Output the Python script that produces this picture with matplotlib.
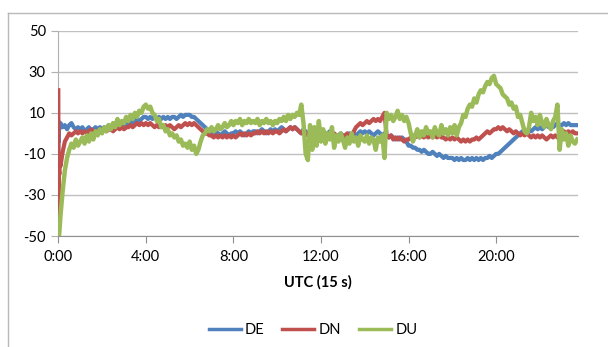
import numpy as np
import matplotlib
matplotlib.use("Agg")
import matplotlib.pyplot as plt
from matplotlib.lines import Line2D

plt.rcParams['font.family'] = ['Lato', 'DejaVu Sans']

# first minutes of the record (hours)
t_start = [0.0, 0.01, 0.02, 0.03, 0.05, 0.07]
de_start = [-8, 6, -4, 5, 2, 4]
dn_start = [21, -50, -25, -18, -20, -12]
du_start = [-50, -50, -50, -50, -48, -45]

# then one value every 0.1 h, one row per hour (row 0 starts at 0.1 h)
de_rows = [
    [5, 3, 4, 2, 4, 5, 3, 2, 3],
    [2, 3, 1, 2, 3, 1, 2, 3, 2, 3],
    [2, 3, 2, 4, 3, 4, 3, 4, 5, 4],
    [5, 4, 5, 6, 5, 6, 7, 6, 7, 8],
    [8, 7, 8, 7, 8, 7, 8, 7, 8, 7],
    [8, 7, 8, 8, 7, 8, 9, 8, 9, 9],
    [9, 8, 8, 7, 6, 5, 4, 3, 2, 1],
    [1, 0, 1, 0, -1, 0, 1, 0, -1, 0],
    [0, 1, 0, 1, 0, -1, 0, 1, 0, 1],
    [1, 0, 1, 2, 1, 0, 1, 2, 1, 2],
    [1, 2, 3, 2, 1, 2, 3, 2, 3, 2],
    [1, 0, 2, 1, 0, 1, 2, 1, 0, 1],
    [1, 0, -1, 0, 1, 0, -1, -2, -1, 0],
    [-1, -2, -1, 0, -1, 0, -1, 0, 1, 0],
    [1, 0, 1, 0, -1, 0, 1, 0, -1, 0],
    [-1, -2, -1, -2, -3, -2, -3, -2, -3, -4],
    [-6, -6, -7, -7, -8, -8, -9, -8, -9, -10],
    [-10, -9, -10, -11, -10, -11, -12, -11, -12, -12],
    [-12, -13, -12, -13, -12, -13, -13, -12, -13, -12],
    [-13, -12, -13, -12, -13, -12, -12, -11, -12, -11],
    [-10, -10, -9, -8, -7, -6, -5, -4, -3, -2],
    [-1, 0, 1, 0, 1, 2, 1, 2, 3, 2],
    [3, 2, 3, 4, 3, 4, 3, 4, 5, 4],
    [4, 5, 4, 5, 4, 4, 4, 4],
]
dn_rows = [
    [-16, -9, -4, -2, 0, -1, 0, 1, 0],
    [1, 0, 1, 0, 1, 2, 1, 0, 1, 2],
    [1, 2, 1, 2, 2, 1, 2, 3, 2, 3],
    [2, 3, 3, 4, 3, 4, 5, 4, 5, 4],
    [5, 4, 5, 4, 3, 4, 3, 4, 3, 4],
    [3, 4, 3, 2, 3, 4, 3, 4, 5, 4],
    [5, 4, 5, 4, 3, 2, 1, 0, 0, -1],
    [-1, -2, -1, -2, -1, -2, -1, -2, -1, -2],
    [-1, -2, -1, 0, -1, 0, -1, 0, -1, 0],
    [0, 1, 0, 1, 0, 1, 0, 1, 0, 1],
    [1, 0, 1, 2, 1, 2, 3, 2, 3, 2],
    [1, 0, 1, 0, -1, 0, 1, 0, -1, 0],
    [0, -1, 0, -1, -2, -1, 0, -1, -2, -3],
    [-2, -1, 0, -1, -2, 1, 3, 4, 5, 4],
    [5, 6, 5, 6, 7, 6, 7, 6, 8, 10],
    [-1, -2, -1, -3, -2, -3, -2, -3, -4, -3],
    [-3, -2, -1, -2, -1, -2, -1, -2, -1, -2],
    [-1, -2, -1, -2, -1, -2, -2, -3, -2, -3],
    [-2, -3, -2, -3, -4, -3, -4, -3, -4, -3],
    [-3, -2, -3, -2, -1, 0, 1, 0, 1, 2],
    [2, 3, 2, 3, 2, 1, 2, 1, 0, 1],
    [0, -1, 0, -1, 0, -1, -2, -1, -2, -1],
    [-2, -1, -2, -3, -2, -1, -2, -1, -2, -1],
    [0, 1, 0, 1, 0, 1, 0, 0],
]
du_rows = [
    [-40, -28, -18, -12, -8, -5, -7, -3, -6],
    [-4, -2, -5, -1, -4, 0, -3, 1, -1, 2],
    [0, 3, 1, 4, 2, 5, 3, 7, 4, 6],
    [5, 8, 6, 9, 7, 10, 8, 11, 10, 13],
    [14, 12, 13, 10, 9, 6, 7, 3, 4, 1],
    [2, -1, 0, -2, -1, -4, -3, -6, -5, -7],
    [-4, -8, -6, -10, -8, -4, -1, 0, 2, 1],
    [3, 1, 2, 4, 2, 3, 5, 3, 4, 6],
    [4, 6, 5, 7, 4, 6, 5, 7, 5, 6],
    [5, 7, 4, 6, 5, 7, 5, 6, 4, 6],
    [5, 7, 6, 8, 6, 9, 7, 9, 8, 10],
    [9, 14, 5, -10, -13, 4, -8, 3, -6, 6],
    [-4, 2, -5, 0, -3, 3, -7, -1, -4, 0],
    [-3, -7, -2, -5, 0, -4, -2, -6, -1, -3],
    [-4, -1, -5, -2, -3, -8, -2, -4, -1, -12],
    [10, 7, 9, 6, 8, 11, 7, 9, 6, 8],
    [5, 0, -4, -1, 2, -2, 1, -1, 3, 0],
    [1, -2, 3, 0, -1, 4, 0, 2, -1, 3],
    [0, 4, -1, 3, 5, 9, 8, 12, 14, 13],
    [17, 15, 19, 21, 20, 23, 25, 24, 27, 28],
    [24, 23, 22, 19, 18, 17, 14, 15, 12, 13],
    [8, 9, 5, 1, 0, 3, 10, 6, 8, 4],
    [9, 5, 3, 7, 4, 2, 6, 8, 14, -8],
    [2, -3, 0, -6, -1, -4, -5, -3],
]

tick_hours = [0, 4, 8, 12, 16, 20]
tick_labels = ["0:00", "4:00", "8:00", "12:00", "16:00", "20:00"]

n_main = sum(len(r) for r in de_rows)
t_main = np.round(np.arange(1, n_main + 1) * 0.1, 1)
t = np.concatenate([t_start, t_main])
de = np.concatenate([de_start, np.concatenate(de_rows)])
dn = np.concatenate([dn_start, np.concatenate(dn_rows)])
du = np.concatenate([du_start, np.concatenate(du_rows)])

c_de, c_dn, c_du = "#4F81BD", "#C0504D", "#9BBB59"

fig = plt.figure(figsize=(6.08, 3.47), dpi=100)
ax = fig.add_axes([58.3 / 608, 1 - 236 / 347, (578 - 58.3) / 608, (236 - 30.7) / 347])

ax.plot(t, de, color=c_de, lw=3.0, zorder=3)
ax.plot(t, dn, color=c_dn, lw=3.0, zorder=4)
ax.plot(t, du, color=c_du, lw=3.2, zorder=5)

ax.set_xlim(0, 23.74)
ax.set_ylim(-50, 50)
ax.set_yticks([-50, -30, -10, 10, 30, 50])
ax.set_yticklabels(["-50", "-30", "-10", "10", "30", "50"])
ax.set_xticks(tick_hours)
ax.set_xticklabels(tick_labels)
ax.grid(axis="y", color="#c0c0c0", lw=1)
ax.set_axisbelow(True)
for s in ["top", "right"]:
    ax.spines[s].set_visible(False)
ax.spines["left"].set_color("#b0b0b0")
ax.spines["bottom"].set_color("#909090")
ax.tick_params(axis="y", length=5, color="#b0b0b0", labelsize=10.5, pad=4)
ax.tick_params(axis="x", length=5, color="#909090", labelsize=10.5, pad=5)
ax.set_xlabel("UTC (15 s)", fontsize=10.5, fontweight="bold", labelpad=8)

handles = [Line2D([], [], color=c, lw=2.5) for c in (c_de, c_dn, c_du)]
fig.legend(handles, ["DE", "DN", "DU"], loc="center", bbox_to_anchor=(313 / 608, 1 - 330 / 347),
           ncol=3, frameon=False, fontsize=10.5, handlelength=2.2, handletextpad=0.3, columnspacing=1.2)

# chart frame (only top and left edges visible)
fig.add_artist(Line2D([8 / 608, 1], [1 - 13 / 347] * 2, transform=fig.transFigure, color="#b8b8b8", lw=1))
fig.add_artist(Line2D([8 / 608] * 2, [0, 1 - 13 / 347], transform=fig.transFigure, color="#b8b8b8", lw=1))

fig.savefig("out.png", dpi=100)
